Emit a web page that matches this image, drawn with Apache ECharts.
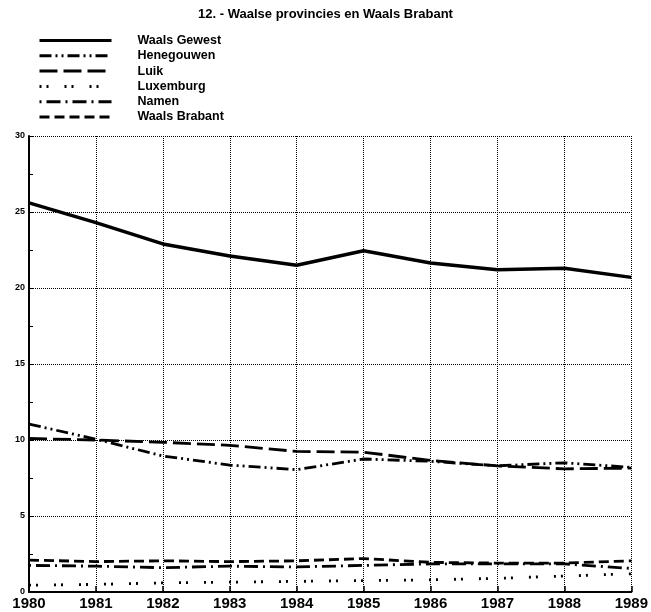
<!DOCTYPE html>
<html>
<head>
<meta charset="utf-8">
<script src="https://cdn.jsdelivr.net/npm/echarts@6/dist/echarts.min.js"></script>
<style>
  html, body { margin: 0; padding: 0; background: #fff; }
  #chart { width: 651px; height: 612px; }
</style>
</head>
<body>
<div id="chart"></div>
<script>
// jaren
const years = ['1980', '1981', '1982', '1983', '1984', '1985', '1986', '1987', '1988', '1989'];

// waarden
const waalsGewest = [25.6, 24.3, 22.9, 22.1, 21.5, 22.45, 21.65, 21.2, 21.3, 20.7];
const henegouwen = [11.05, 10.05, 8.95, 8.35, 8.05, 8.75, 8.6, 8.3, 8.5, 8.2];
const luik = [10.1, 10.0, 9.85, 9.65, 9.25, 9.2, 8.65, 8.3, 8.1, 8.15];
const luxemburg = [0.45, 0.5, 0.6, 0.65, 0.7, 0.75, 0.8, 0.9, 1.05, 1.2];
const namen = [1.75, 1.7, 1.6, 1.7, 1.65, 1.75, 1.85, 1.85, 1.85, 1.55];
const waalsBrabant = [2.1, 2.0, 2.05, 2.0, 2.05, 2.2, 1.95, 1.9, 1.9, 2.05];

const font = '"Liberation Sans", Arial, sans-serif';

// helper voor een lijnserie
const makeLine = (name, data, dash, width) => ({
  name: name,
  type: 'line',
  data: data,
  symbol: 'none',
  smooth: false,
  lineStyle: { color: '#000', width: width, type: dash, cap: 'butt' },
  itemStyle: { color: '#000' },
  z: 3,
});

const myChart = echarts.init(document.getElementById('chart'));

const option = {
  backgroundColor: '#fff',
  animation: false,
  title: {
    text: '12. - Waalse provincies en Waals Brabant',
    left: 'center',
    top: 3,
    textStyle: { fontFamily: font, fontSize: 13, fontWeight: 'bold', color: '#000' },
  },
  legend: {
    orient: 'vertical',
    left: 38,
    top: 34,
    padding: 0,
    itemWidth: 72,
    itemHeight: 12,
    itemGap: 2.3,
    itemStyle: { opacity: 0 }, // geen symbool in de legende
    lineStyle: { width: 3 },
    textStyle: { fontFamily: font, fontSize: 12.5, fontWeight: 'bold', color: '#000', padding: [0, 0, 0, 21] },
    data: ['Waals Gewest', 'Henegouwen', 'Luik', 'Luxemburg', 'Namen', 'Waals Brabant'],
  },
  grid: {
    left: 29,
    right: 18,
    top: 136,
    bottom: 20,
    containLabel: false,
  },
  xAxis: {
    type: 'category',
    data: years,
    boundaryGap: false,
    axisLine: { lineStyle: { color: '#000', width: 2 } },
    axisTick: { show: true, inside: true, length: 6, lineStyle: { color: '#000', width: 1.5 } },
    axisLabel: { fontFamily: font, fontSize: 15, fontWeight: 'bold', color: '#000', margin: 4 },
    splitLine: { show: true, lineStyle: { color: '#000', width: 1, type: [1, 1] } },
  },
  yAxis: {
    type: 'value',
    min: 0,
    max: 30,
    interval: 5,
    axisLine: { show: true, lineStyle: { color: '#000', width: 2 } },
    axisTick: { show: true, inside: true, length: 4, lineStyle: { color: '#000' } },
    minorTick: { show: true, splitNumber: 2, length: 4, lineStyle: { color: '#000' } },
    axisLabel: { fontFamily: font, fontSize: 9, fontWeight: 'bold', color: '#000', margin: 4 },
    splitLine: { show: true, lineStyle: { color: '#000', width: 1, type: [1, 1] } },
  },
  series: [
    makeLine('Waals Gewest', waalsGewest, 'solid', 3.5),
    makeLine('Henegouwen', henegouwen, [12, 4, 2, 4, 2, 4], 2.8),
    makeLine('Luik', luik, [18, 6], 2.8),
    makeLine('Luxemburg', luxemburg, [2, 5, 2, 16], 2.8),
    makeLine('Namen', namen, [2, 5, 14, 5], 2.8),
    makeLine('Waals Brabant', waalsBrabant, [10, 5], 2.8),
  ],
};

myChart.setOption(option);
</script>
</body>
</html>
